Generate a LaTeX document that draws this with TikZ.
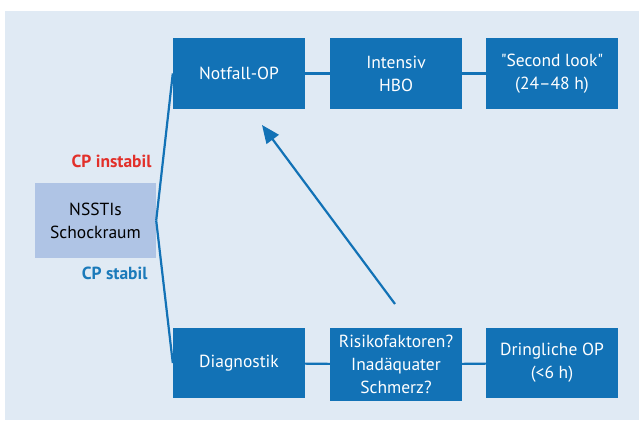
\documentclass[tikz,border=0pt]{standalone}
\usepackage{fontspec}
\setmainfont{PT Sans}
\usetikzlibrary{arrows.meta}

\definecolor{boxblue}{RGB}{18,114,182}
\definecolor{bgblue}{RGB}{224,234,244}
\definecolor{startblue}{RGB}{175,196,229}
\definecolor{cpred}{RGB}{226,48,42}
\definecolor{cpblue}{RGB}{27,122,186}

\tikzset{
  step box/.style={fill=boxblue, text=white, minimum width=132pt, minimum height=71pt,
    align=center, inner sep=2pt, font=\fontsize{17.5}{23}\selectfont},
  start box/.style={fill=startblue, text=black, minimum width=121pt, minimum height=75pt,
    align=center, font=\fontsize{17.5}{23}\selectfont},
  cp label/.style={anchor=east, font=\fontsize{17.5}{21}\selectfont\bfseries},
  link/.style={draw=boxblue, line width=2.2pt}
}

\begin{document}
\begin{tikzpicture}[x=1pt, y=-1pt]
\useasboundingbox (0,0) rectangle (639,420);
\fill[bgblue] (5,11) rectangle (639,420);

% upper row
\node[step box] (notfall) at (239,73.5) {Notfall-OP};
\node[step box] (hbo) at (396,73.5) {Intensiv\\HBO};
\node[step box] (look) at (552,73.5) {\textquotedbl Second look\textquotedbl\\(24--48 h)};

% start
\node[start box] (start) at (95.5,220.5) {NSSTIs\\Schockraum};
\node[cp label, text=cpred] (instabil) at (155,161) {CP instabil};
\node[cp label, text=cpblue] (stabil) at (151,273) {CP stabil};

% lower row
\node[step box, minimum height=70pt] (diag) at (239,363) {Diagnostik};
\node[step box, minimum height=73pt] (risk) at (396,364.5) {Risikofaktoren?\\Inadäquater\\Schmerz?};
\node[step box, minimum height=70pt] (dring) at (552,363) {Dringliche OP\\(<6 h)};

\coordinate (up from) at (395,304);
\coordinate (up to) at (262,125);

\path[link]
(start.east) edge (notfall.west)  edge (diag.west)
(notfall) edge (hbo)  (hbo) edge (look)
(diag) edge (risk)  (risk) edge (dring);
\draw[link, -{Triangle[length=18pt, width=15pt]}] (up from) -- (up to);
\end{tikzpicture}
\end{document}
